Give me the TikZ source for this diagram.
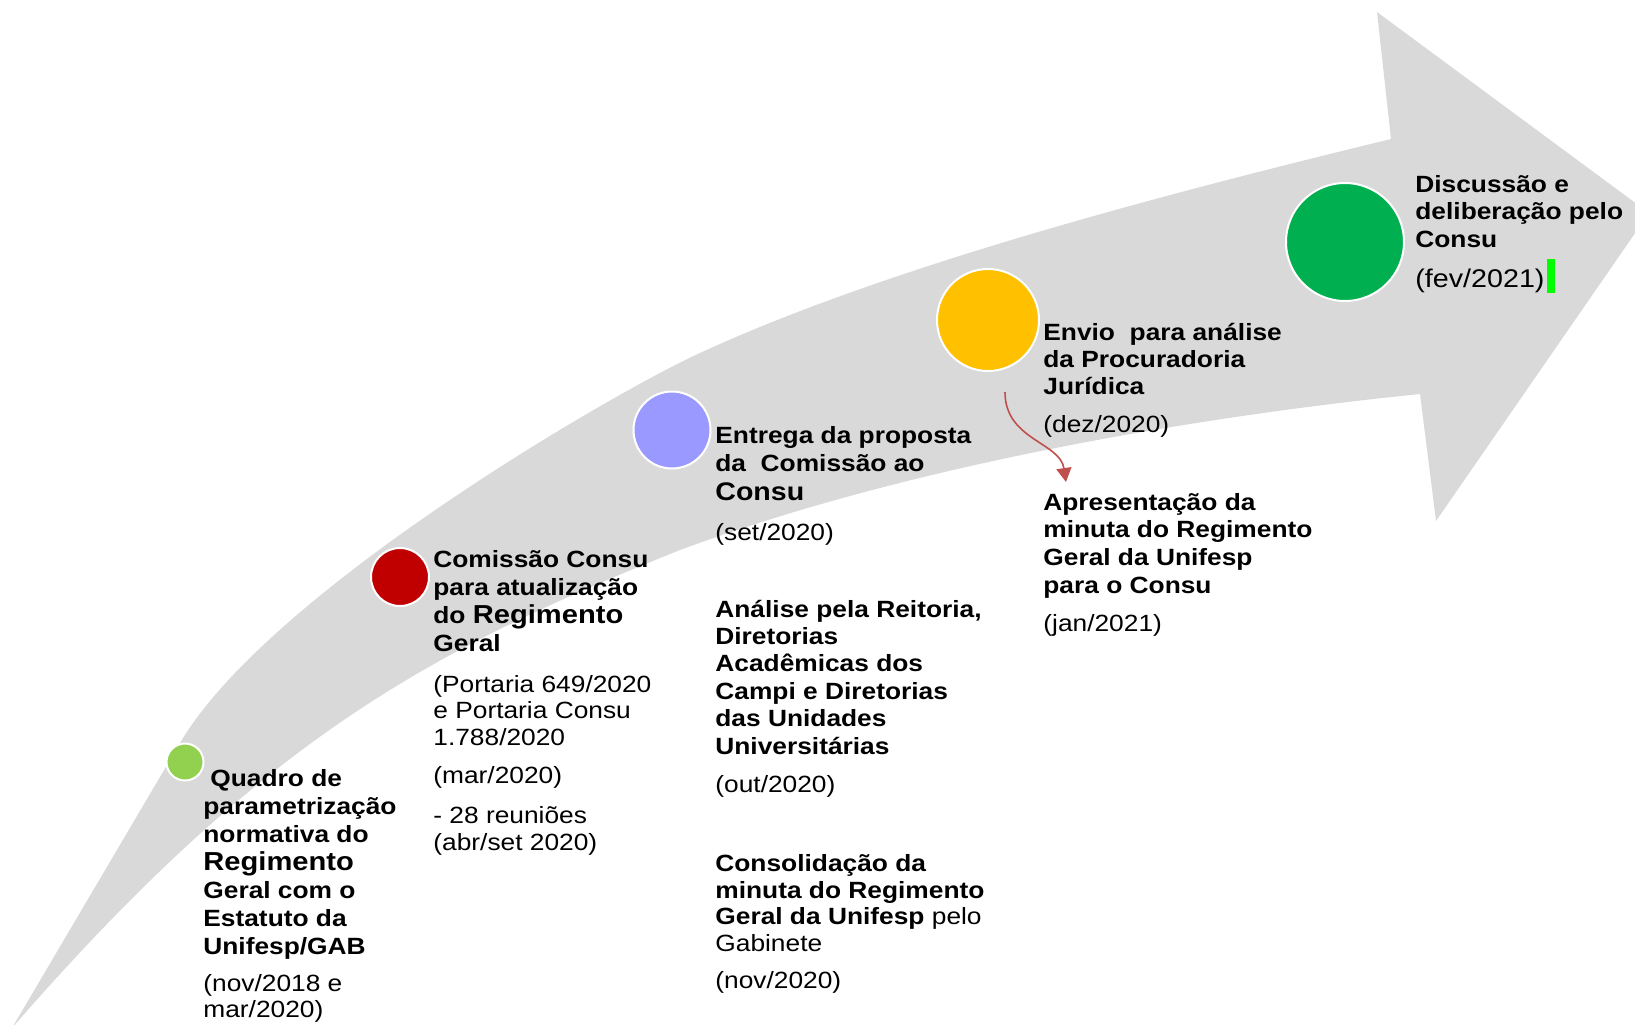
\documentclass[tikz,border=0pt]{standalone}
\usepackage{fontspec}
\setmainfont[FakeStretch=1.12]{Liberation Sans}
\usetikzlibrary{arrows.meta}
\definecolor{bandgray}{HTML}{D9D9D9}
\definecolor{cLime}{HTML}{92D050}
\definecolor{cRed}{HTML}{C00000}
\definecolor{cLav}{HTML}{9999FF}
\definecolor{cAmber}{HTML}{FFC000}
\definecolor{cGreen}{HTML}{00B050}
\definecolor{cArrow}{HTML}{C0504D}
\definecolor{cCursor}{HTML}{00FF00}
% multi-line nodes: the base anchor is the baseline of the LAST line
\tikzset{
  dot/.style={circle, draw=white, line width=1pt, inner sep=0pt},
  ttl/.style={anchor=base west, inner sep=0pt, align=left, font=\fontsize{11.75}{#1}\selectfont\bfseries},
  ttl/.default=14,
  dt/.style={anchor=base west, inner sep=0pt, align=left, font=\fontsize{11.75}{#1}\selectfont},
  dt/.default=13.5,
}
\newcommand{\bigR}[1]{{\fontsize{13}{14}\selectfont #1}}
\begin{document}
\begin{tikzpicture}[x=0.5pt, y=-0.5pt]
\useasboundingbox (0,0) rectangle (1635,1024);
\clip (0,0) rectangle (1635,1024);
% curved band arrow
\fill[bandgray] (12,1028) -- (180,743)
  .. controls (268,593) and (612,393) .. (700,353)
  .. controls (897,262) and (1194,187) .. (1391,139)
  -- (1377,12) -- (1649,213) -- (1436,521) -- (1420,394)
  .. controls (1193,417) and (907,466) .. (680,550)
  .. controls (431,650) and (264,738) .. (12,1028)
  -- cycle;
% milestones
\node[dot, fill=cLime,  minimum size=18.5pt] (c1) at (185,762) {};
\node[dot, fill=cRed,   minimum size=29pt] (c2) at (400,577) {};
\node[dot, fill=cLav,   minimum size=38.5pt] (c3) at (672,430) {};
\node[dot, fill=cAmber, minimum size=51pt] (c4) at (988,320) {};
\node[dot, fill=cGreen, minimum size=59pt] (c5) at (1345,242) {};
% texts (positions = baseline of last line)
\node[ttl] (t1) at (203,954) {\hspace*{3.5pt}Quadro de\\parametrização\\normativa do\\\bigR{Regimento}\\Geral com o\\Estatuto da\\Unifesp/GAB};
\node[dt=13] (d1) at (203,1017) {(nov/2018 e\\mar/2020)};
\node[ttl] (t2) at (433,651) {Comissão Consu\\para atualização\\do \bigR{Regimento}\\Geral};
\node[dt=13.25] (p2) at (433,745) {(Portaria 649/2020\\e Portaria Consu\\1.788/2020};
\node[dt] (d2) at (433,783) {(mar/2020)};
\node[dt] (r2) at (433,850) {- 28 reuniões\\(abr/set 2020)};
\node[ttl=14.25] (t3) at (715,500) {Entrega da proposta\\da\ \ Comissão ao\\{\fontsize{12.75}{14.25}\selectfont Consu}};
\node[dt] (d3) at (715,540) {(set/2020)};
\node[ttl=13.7] (t4) at (715,754) {Análise pela Reitoria,\\Diretorias\\Acadêmicas dos\\Campi e Diretorias\\das Unidades\\Universitárias};
\node[dt] (d4) at (715,792) {(out/2020)};
\node[ttl=13.25] (t5) at (715,951) {Consolidação da\\minuta do Regimento\\Geral da Unifesp {\mdseries pelo}\\{\mdseries Gabinete}};
\node[dt] (d5) at (715,988) {(nov/2020)};
\node[ttl=13.5] (t6) at (1043,394) {Envio\ \ para análise\\da Procuradoria\\Jurídica};
\node[dt] (d6) at (1043,432) {(dez/2020)};
\node[ttl=13.8] (t7) at (1043,593) {Apresentação da\\minuta do Regimento\\Geral da Unifesp\\para o Consu};
\node[dt] (d7) at (1043,631) {(jan/2021)};
\node[ttl=13.75] (t8) at (1415,247) {Discussão e\\deliberação pelo\\Consu};
\node[dt, font=\fontsize{12.8}{14}\selectfont] (d8) at (1415,287) {(fev/2021)};
\fill[cCursor] (d8.base east) ++(2,-28) rectangle ++(8,34);
% red connector
\coordinate (aS) at (1005,392);
\coordinate (aE) at (1066,482);
\draw[cArrow, line width=0.8pt, -{Triangle[width=7.5pt,length=7pt]}] (aS) .. controls (1005,440) and (1060,442) .. (aE);
\end{tikzpicture}
\end{document}
